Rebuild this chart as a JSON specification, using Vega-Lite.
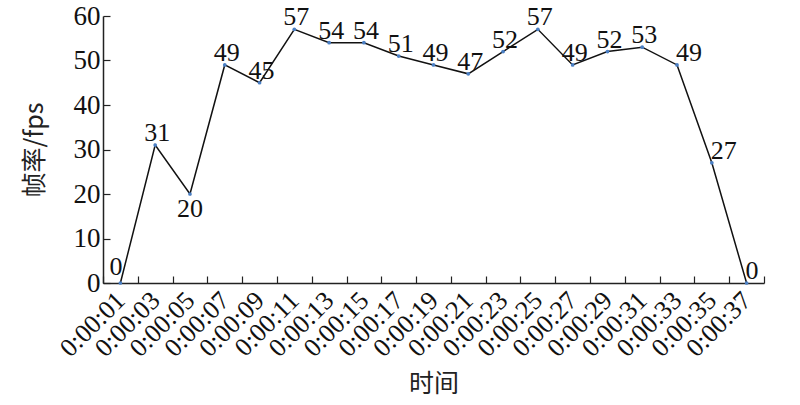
{
  "$schema": "https://vega.github.io/schema/vega-lite/v6.json",
  "autosize": "none",
  "width": 661,
  "height": 267,
  "padding": {"left": 103, "top": 16, "right": 36, "bottom": 122},
  "background": "white",
  "config": {"view": {"stroke": null}, "font": "Liberation Serif"},
  "data": {"values": [
    {"t": "0:00:01", "fps": 0, "pos": "left"},
    {"t": "0:00:03", "fps": 31, "pos": "top"},
    {"t": "0:00:05", "fps": 20, "pos": "bottom"},
    {"t": "0:00:07", "fps": 49, "pos": "top"},
    {"t": "0:00:09", "fps": 45, "pos": "top"},
    {"t": "0:00:11", "fps": 57, "pos": "top"},
    {"t": "0:00:13", "fps": 54, "pos": "top"},
    {"t": "0:00:15", "fps": 54, "pos": "top"},
    {"t": "0:00:17", "fps": 51, "pos": "top"},
    {"t": "0:00:19", "fps": 49, "pos": "top"},
    {"t": "0:00:21", "fps": 47, "pos": "top"},
    {"t": "0:00:23", "fps": 52, "pos": "top"},
    {"t": "0:00:25", "fps": 57, "pos": "top"},
    {"t": "0:00:27", "fps": 49, "pos": "top"},
    {"t": "0:00:29", "fps": 52, "pos": "top"},
    {"t": "0:00:31", "fps": 53, "pos": "top"},
    {"t": "0:00:33", "fps": 49, "pos": "right"},
    {"t": "0:00:35", "fps": 27, "pos": "right"},
    {"t": "0:00:37", "fps": 0, "pos": "right"}
  ]},
  "encoding": {
    "x": {"field": "t", "type": "ordinal", "sort": null,
      "scale": {"type": "band", "paddingInner": 0, "paddingOuter": 0},
      "axis": {"title": "时间", "titleFont": "Noto Sans CJK SC", "titleFontWeight": "normal", "titleFontSize": 25, "titleColor": "#222",
        "labelFont": "Liberation Serif", "labelAngle": -45, "labelAlign": "right", "labelBaseline": "middle", "labelFontSize": 26, "labelColor": "#111",
        "labelPadding": 20, "labelDx": 16, "tickBand": "extent", "tickSize": -7, "tickColor": "#222", "domainColor": "#222", "domainWidth": 1.5, "tickWidth": 1.2,
        "titlePadding": 10, "labelOverlap": false}},
    "y": {"field": "fps", "type": "quantitative",
      "scale": {"domain": [0, 60], "nice": false},
      "axis": {"title": "帧率/fps", "titleFont": "Noto Sans CJK SC", "titleFontWeight": "normal", "titleFontSize": 25, "titleColor": "#222",
        "labelFont": "Liberation Serif", "values": [0, 10, 20, 30, 40, 50, 60], "grid": false, "labelFontSize": 27, "labelColor": "#111",
        "tickSize": -7, "tickColor": "#222", "tickWidth": 1.2, "domainColor": "#222", "domainWidth": 1.5, "labelPadding": 10, "titlePadding": 26}}
  },
  "layer": [
    {"mark": {"type": "line", "color": "#111", "strokeWidth": 1.5}},
    {"mark": {"type": "point", "filled": true, "color": "#4a7fc4", "size": 14, "opacity": 1}},
    {"transform": [{"filter": "datum.pos == 'top'"}],
     "mark": {"type": "text", "font": "Liberation Serif", "fontSize": 26, "color": "#111", "baseline": "alphabetic", "dx": 2, "dy": -4},
     "encoding": {"text": {"field": "fps"}}},
    {"transform": [{"filter": "datum.pos == 'bottom'"}],
     "mark": {"type": "text", "font": "Liberation Serif", "fontSize": 26, "color": "#111", "baseline": "top", "dy": 2},
     "encoding": {"text": {"field": "fps"}}},
    {"transform": [{"filter": "datum.pos == 'left'"}],
     "mark": {"type": "text", "font": "Liberation Serif", "fontSize": 26, "color": "#111", "baseline": "alphabetic", "align": "right", "dx": 2, "dy": -8},
     "encoding": {"text": {"field": "fps"}}},
    {"transform": [{"filter": "datum.pos == 'right'"}],
     "mark": {"type": "text", "font": "Liberation Serif", "fontSize": 26, "color": "#111", "baseline": "alphabetic", "align": "left", "dx": -1, "dy": -4},
     "encoding": {"text": {"field": "fps"}}}
  ]
}
